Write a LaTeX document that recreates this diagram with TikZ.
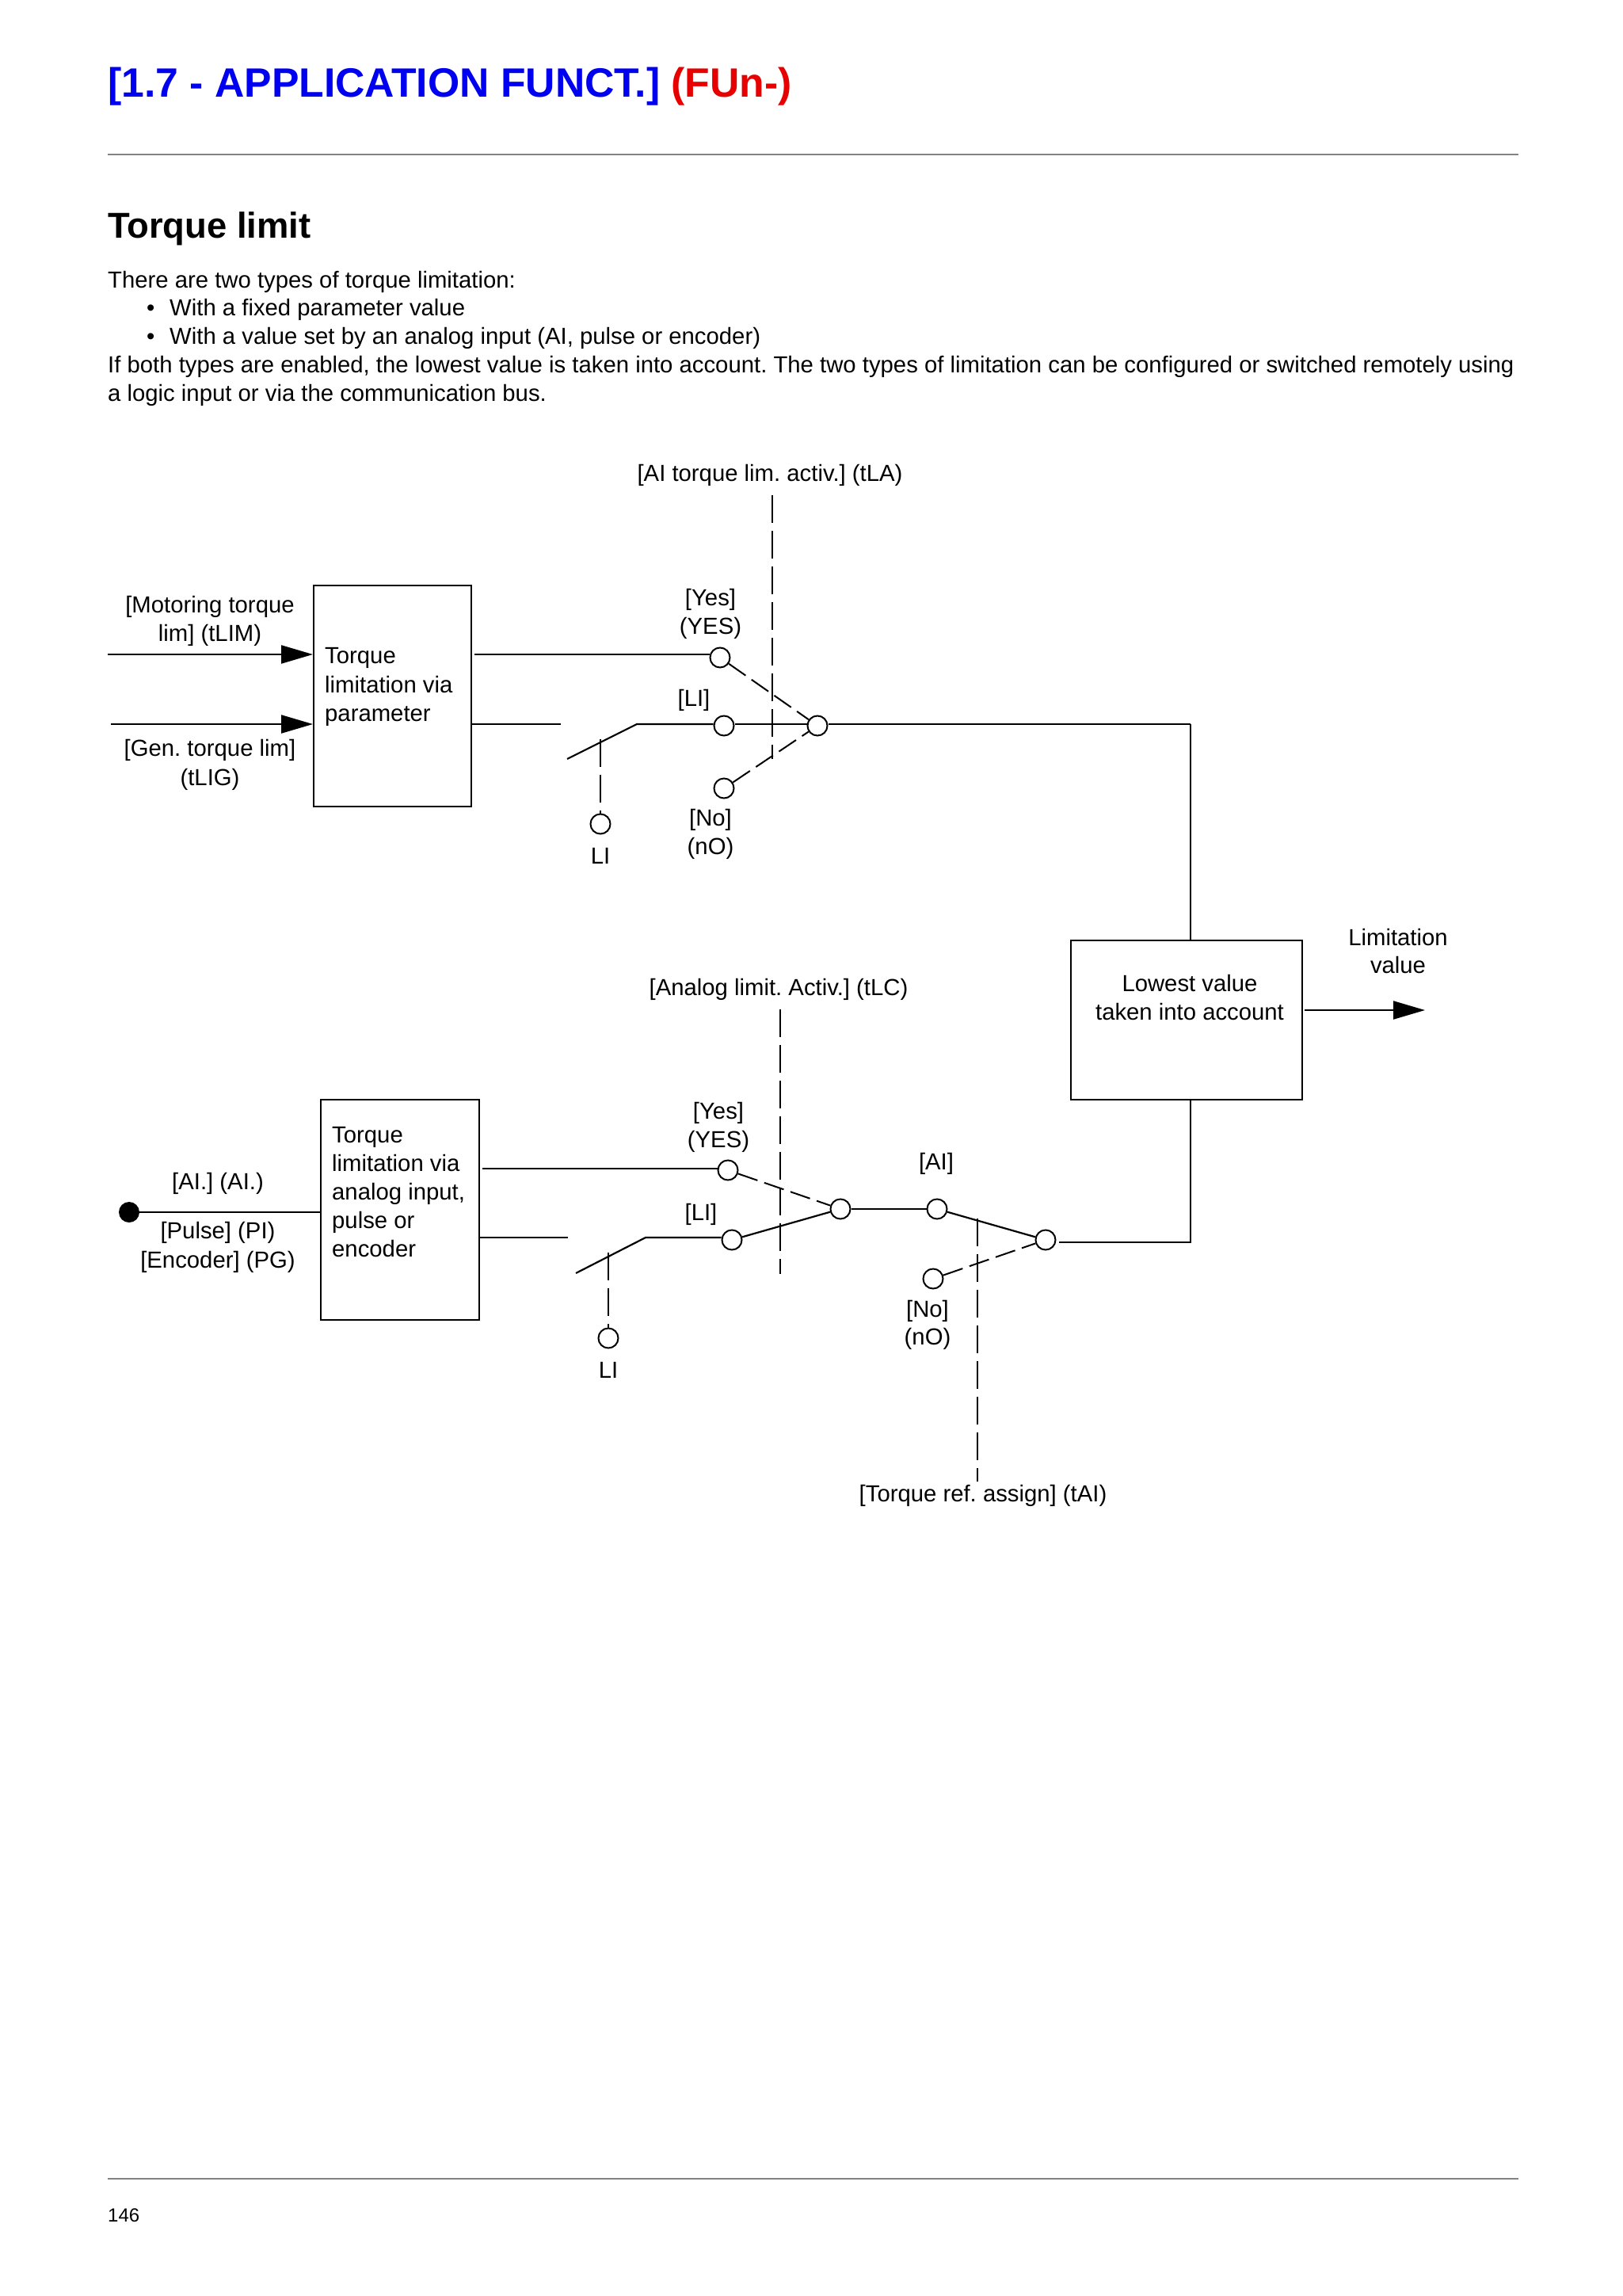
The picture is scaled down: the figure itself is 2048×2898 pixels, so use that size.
\documentclass[tikz,border=0pt]{standalone}
\usepackage{fontspec}
\setmainfont{Liberation Sans}
\usetikzlibrary{arrows.meta}
\frenchspacing
\definecolor{titleblue}{RGB}{0,0,240}
\definecolor{titlered}{RGB}{230,0,0}
\definecolor{rulegray}{RGB}{130,130,130}
\tikzset{
  wire/.style={line width=2.2pt,black},
  rulel/.style={line width=1.6pt,rulegray},
  dashl/.style={line width=2pt,black,dash pattern=on 35pt off 10pt},
  dashs/.style={line width=2pt,black,dash pattern=on 26pt off 9pt},
  flow/.style={wire,-{Triangle[length=40pt,width=23pt]}},
  box/.style={draw,line width=2.2pt,fill=white,inner sep=0pt,anchor=north west},
  term/.style={circle,draw,line width=2pt,fill=white,minimum size=25pt,inner sep=0pt},
  lbl/.style={inner sep=0pt,anchor=mid,yshift=-7.5pt,font=\fontsize{29.3}{35}\selectfont},
  lbll/.style={inner sep=0pt,anchor=mid west,yshift=-7.5pt,font=\fontsize{29.3}{35}\selectfont},
  body/.style={inner sep=0pt,anchor=mid west,yshift=-8pt,font=\fontsize{29.3}{35}\selectfont}
}
\begin{document}
\begin{tikzpicture}[x=1pt,y=-1pt]
\useasboundingbox (0,0) rectangle (2048,2898);
\fill[white] (0,0) rectangle (2048,2898);
% header
\node[inner sep=0pt,anchor=mid west,font=\fontsize{51.7}{60}\selectfont\bfseries] (title) at (136,120) {\textcolor{titleblue}{[1.7 - APPLICATION FUNCT.]} \textcolor{titlered}{(FUn-)}};
\coordinate (r1a) at (136,195); \coordinate (r1b) at (1917,195);
\draw[rulel] (r1a) -- (r1b);
\node[inner sep=0pt,anchor=mid west,font=\fontsize{45.4}{50}\selectfont\bfseries] (head) at (136,298) {Torque limit};
\node[body] (t1) at (136,353) {There are two types of torque limitation:};
\node[body] (b2) at (185,388) {•};
\node[body] (t2) at (214,388) {With a fixed parameter value};
\node[body] (b3) at (185,424) {•};
\node[body] (t3) at (214,424) {With a value set by an analog input (AI, pulse or encoder)};
\node[body] (t4) at (136,460) {If both types are enabled, the lowest value is taken into account. The two types of limitation can be configured or switched remotely using};
\node[body] (t5) at (136,496) {a logic input or via the communication bus.};
% --- upper section
\node[box,minimum width=199pt,minimum height=279pt] (bx1) at (395,738) {};
\node[lbll] at (410,827) {Torque};
\node[lbll] at (410,864) {limitation via};
\node[lbll] at (410,900) {parameter};
\coordinate (m1) at (136,826); \coordinate (m1e) at (395,826);
\coordinate (g1) at (140,914); \coordinate (g1e) at (395,914);
\draw[flow] (m1) -- (m1e);
\draw[flow] (g1) -- (g1e);
\coordinate (o1) at (599,826);
\coordinate (o2a) at (594,914); \coordinate (o2b) at (708,914);
\coordinate (sw1a) at (716,958); \coordinate (sw1b) at (804,914);
\coordinate (j1c) at (1503,914);
\coordinate (la) at (975,625); \coordinate (lb) at (975,958);
\coordinate (lic) at (758,933);
\draw[dashl] (la) -- (lb);
\node[term] (yes1) at (909,830) {};
\node[term] (li1) at (914,916) {};
\node[term] (j1) at (1032,916) {};
\node[term] (no1) at (914,995) {};
\node[term] (lit1) at (758,1040) {};
\draw[wire] (o1) -- (yes1.west |- o1);
\draw[wire] (o2a) -- (o2b);
\draw[wire] (sw1a) -- (sw1b) -- (li1.west |- sw1b);
\draw[wire] (li1.east |- sw1b) -- (j1.west |- sw1b);
\draw[wire] (j1.east |- j1c) -- (j1c);
\draw[dashs] (yes1) -- (j1);
\draw[dashs] (no1) -- (j1);
\draw[dashl] (lic) -- (lit1);
\node[lbl] at (972,597) {[AI torque lim. activ.] (tLA)};
\node[lbl] at (265,763) {[Motoring torque};
\node[lbl] at (265,799) {lim] (tLIM)};
\node[lbl] at (265,944) {[Gen. torque lim]};
\node[lbl] at (265,981) {(tLIG)};
\node[lbl] at (897,754) {[Yes]};
\node[lbl] at (897,790) {(YES)};
\node[lbl] at (876,881) {[LI]};
\node[lbl] at (897,1032) {[No]};
\node[lbl] at (897,1068) {(nO)};
\node[lbl] at (758,1080) {LI};
% --- lowest value
\node[box,minimum width=292pt,minimum height=201pt] (bx3) at (1351,1186) {};
\node[lbl] at (1502,1241) {Lowest value};
\node[lbl] at (1502,1277) {taken into account};
\coordinate (lim1) at (1647,1275); \coordinate (lim2) at (1799,1275);
\draw[flow] (lim1) -- (lim2);
\node[lbl] at (1765,1183) {Limitation};
\node[lbl] at (1765,1218) {value};
\draw[wire] (j1c) -- (j1c |- bx3.north);
% --- lower section
\node[box,minimum width=200pt,minimum height=278pt] (bx2) at (404,1387) {};
\node[lbll] at (419,1432) {Torque};
\node[lbll] at (419,1468) {limitation via};
\node[lbll] at (419,1504) {analog input,};
\node[lbll] at (419,1540) {pulse or};
\node[lbll] at (419,1576) {encoder};
\node[circle,fill=black,minimum size=26pt,inner sep=0pt] (dot) at (163,1530) {};
\coordinate (dote) at (404,1530);
\draw[wire] (dot) -- (dote);
\coordinate (p1) at (609,1475);
\coordinate (p2a) at (604,1562); \coordinate (p2b) at (717,1562);
\coordinate (sw2a) at (727,1607); \coordinate (sw2b) at (815,1562);
\coordinate (ca) at (985,1274); \coordinate (cb) at (985,1608);
\coordinate (ta) at (1234,1538); \coordinate (tb) at (1234,1870);
\coordinate (lid) at (768,1581);
\coordinate (outc) at (1503,1568);
\draw[dashl] (ca) -- (cb);
\draw[dashl] (ta) -- (tb);
\node[term] (yes2) at (919,1477) {};
\node[term] (li2) at (924,1565) {};
\node[term] (j2) at (1061,1526) {};
\node[term] (ai) at (1183,1526) {};
\node[term] (end) at (1320,1565) {};
\node[term] (no2) at (1178,1614) {};
\node[term] (lit2) at (768,1689) {};
\draw[wire] (p1) -- (yes2.west |- p1);
\draw[wire] (p2a) -- (p2b);
\draw[wire] (sw2a) -- (sw2b) -- (li2.west |- sw2b);
\draw[wire] (li2) -- (j2);
\draw[wire] (j2) -- (ai);
\draw[wire] (ai) -- (end);
\draw[dashs] (yes2) -- (j2);
\draw[dashs] (no2) -- (end);
\draw[dashl] (lid) -- (lit2);
\coordinate (oute) at (1337,1568);
\draw[wire] (oute) -- (outc) -- (outc |- bx3.south);
\node[lbl] at (983,1246) {[Analog limit. Activ.] (tLC)};
\node[lbl] at (275,1491) {[AI.] (AI.)};
\node[lbl] at (275,1553) {[Pulse] (PI)};
\node[lbl] at (275,1590) {[Encoder] (PG)};
\node[lbl] at (907,1402) {[Yes]};
\node[lbl] at (907,1438) {(YES)};
\node[lbl] at (885,1530) {[LI]};
\node[lbl] at (1182,1466) {[AI]};
\node[lbl] at (1171,1652) {[No]};
\node[lbl] at (1171,1687) {(nO)};
\node[lbl] at (768,1729) {LI};
\node[lbl] at (1241,1885) {[Torque ref. assign] (tAI)};
% footer
\coordinate (r2a) at (136,2750); \coordinate (r2b) at (1917,2750);
\draw[rulel] (r2a) -- (r2b);
\node[inner sep=0pt,anchor=mid west,font=\fontsize{24}{30}\selectfont] (pg) at (136,2802) {146};
\end{tikzpicture}
\end{document}
